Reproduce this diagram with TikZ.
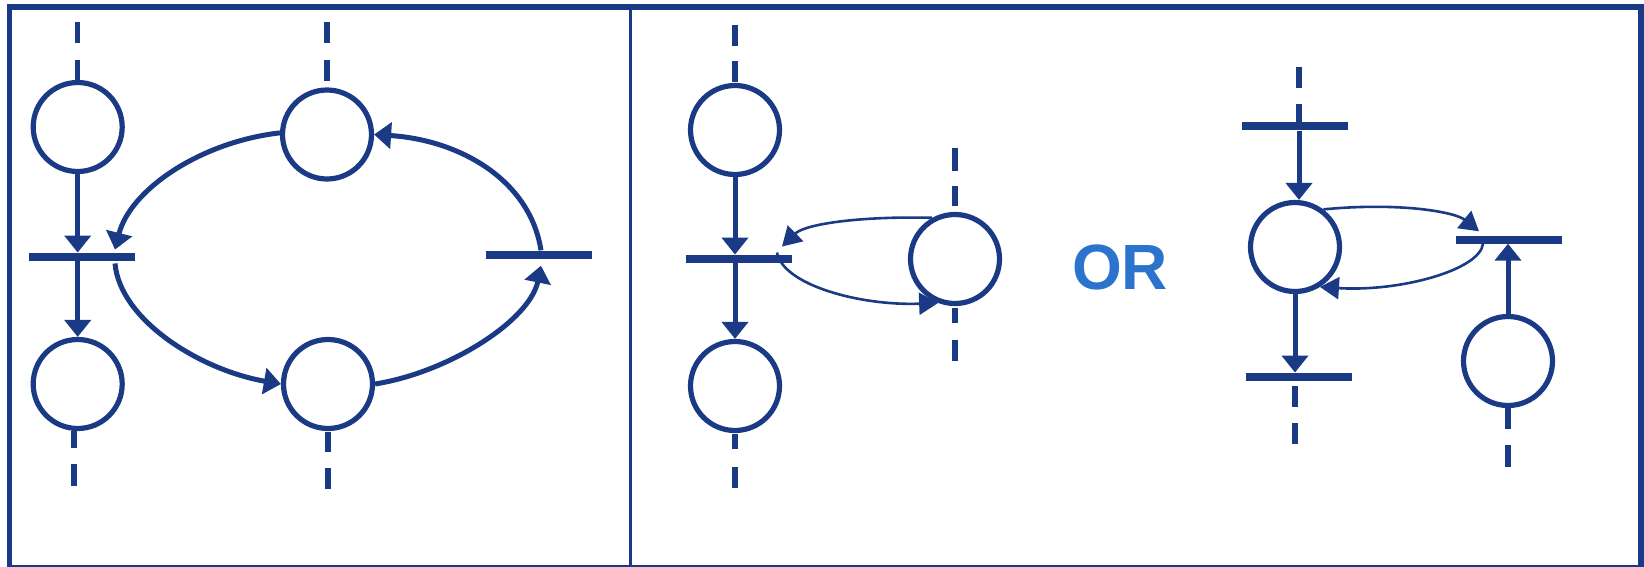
\documentclass[tikz,border=0pt]{standalone}
\usepackage{fontspec}
\setsansfont{Liberation Sans}
\usetikzlibrary{arrows.meta}
\definecolor{pn}{HTML}{1B3A86}
\definecolor{orblue}{HTML}{2B73CC}
\begin{document}
\begin{tikzpicture}[x=1pt,y=-1pt,
  place/.style={circle,draw=pn,line width=5.2pt,minimum size=89pt,inner sep=0pt},
  bar/.style={rectangle,fill=pn,minimum width=106pt,minimum height=#1,inner sep=0pt},
  bar/.default=8.5pt,
  arc/.style={draw=pn,line width=5pt,-{Triangle[width=26pt,length=17pt]}},
  thinarc/.style={draw=pn,line width=2.6pt,-{Triangle[width=22pt,length=19pt]}},
  loose/.style={draw=pn,line width=5.5pt}]
\useasboundingbox (0,0) rectangle (1644,567);
% frame
\draw[pn,line width=5.5pt] (9.5,7) rectangle (1641,567.5);
\draw[pn,line width=3pt] (630.5,7) -- (630.5,567);

% ---------- left panel ----------
\node[place] (c1) at (77.7,127) {};
\node[place] (c2) at (327,134.5) {};
\node[place] (c3) at (77.7,384) {};
\node[place] (c4) at (328,384) {};
\node[bar=8.5pt] (bar1) at (82,257) {};
\node[bar=8pt] (bar2) at (539,254.5) {};

\draw[loose,dash pattern=on 20pt off 17pt on 21pt off 99pt] (c1.north) -- ++(0,-58);
\draw[loose,dash pattern=on 0pt off 6.7pt on 21pt off 17pt on 21pt off 99pt] (c2.north) -- ++(0,-65.7);
\draw[loose,dash pattern=on 17pt off 16pt on 22pt off 99pt] ([xshift=-3.5pt]c3.south) -- ++(0,55);
\draw[loose,dash pattern=on 0pt off 1pt on 20pt off 16pt on 21pt off 99pt] (c4.south) -- ++(0,58);

\draw[arc] (c1.south) -- (c1.south |- bar1.north);
\draw[arc] (c3.north |- bar1.south) -- (c3.north);
\draw[arc] (c2.178) .. controls (200,142) and (130,190) .. ([xshift=33pt,yshift=3pt]bar1.north);
\draw[arc] ([xshift=33pt,yshift=-2pt]bar1.south) .. controls (120,320) and (200,370) .. (c4.west);
\draw[arc] (c4.east) .. controls (450,372) and (530,320) .. ([xshift=2pt,yshift=-7pt]bar2.south);
\draw[arc] ([xshift=2pt]bar2.north) .. controls (530,180) and (460,140) .. (c2.east);

% ---------- middle panel ----------
\node[place] (c5) at (735,130) {};
\node[place] (c6) at (735,386) {};
\node[place] (c7) at (955,259) {};
\node[bar=8.5pt] (barm) at (739,259) {};

\draw[loose,dash pattern=on 0pt off 1pt on 21pt off 15pt on 21pt off 99pt] (c5.north) -- ++(0,-58);
\draw[loose,dash pattern=on 0pt off 1pt on 15pt off 18pt on 21pt off 99pt] (c6.south) -- ++(0,55);
\draw[loose,dash pattern=on 0pt off 6pt on 20pt off 15pt on 23pt off 99pt] (c7.north) -- ++(0,-64);
\draw[loose,dash pattern=on 0pt off 2pt on 15pt off 17pt on 21pt off 99pt] (c7.south) -- ++(0,55);

\draw[arc] (c5.south) -- (c5.south |- barm.north);
\draw[arc] (c6.north |- barm.south) -- (c6.north);
\draw[thinarc] (c7.119) .. controls (860,216) and (805,224) .. ([xshift=43pt,yshift=8pt]barm.north);
\draw[thinarc] ([xshift=38pt,yshift=2pt]barm.north) .. controls (783,285) and (860,306) .. (c7.249);

\node[text=orblue,font=\sffamily\bfseries\fontsize{64}{64}\selectfont,inner sep=0pt] (or) at (1120,267) {OR};

% ---------- right panel ----------
\node[place] (c8) at (1295,247) {};
\node[place] (c9) at (1508,361) {};
\node[bar=8pt] (tb) at (1295,126.5) {};
\node[bar=8pt] (br) at (1509,239.5) {};
\node[bar=8.5pt] (b3) at (1299,377) {};

\draw[loose,dash pattern=on 18pt off 16pt on 21pt off 99pt] ([xshift=4pt]tb.north) -- ++(0,-55);
\draw[loose,dash pattern=on 0pt off 5pt on 21pt off 16pt on 21pt off 99pt] ([xshift=-4pt]b3.south) -- ++(0,63);
\draw[loose,dash pattern=on 21pt off 16pt on 22pt off 99pt] (c9.south) -- ++(0,59);

\draw[arc] ([xshift=4pt]tb.south) -- ([xshift=4pt]c8.north);
\draw[arc] (c8.south) -- (c8.south |- b3.north);
\draw[arc] (c9.north) -- (c9.north |- br.south);
\draw[thinarc] (c8.53) .. controls (1400,202) and (1455,212) .. ([xshift=-30pt,yshift=4pt]br.north);
\draw[thinarc] ([xshift=-26pt]br.south) .. controls (1480,270) and (1400,292) .. (c8.302);
\end{tikzpicture}
\end{document}
